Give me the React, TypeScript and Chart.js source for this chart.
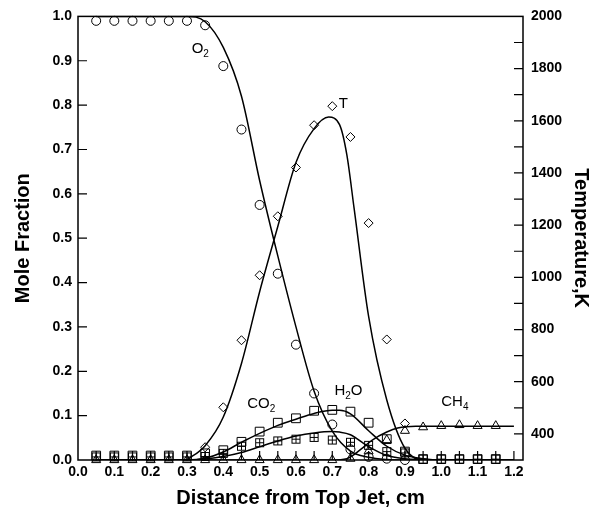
import React, { useEffect, useRef } from "react";
import { Chart, registerables } from "chart.js";

Chart.register(...registerables);

// ---------- data ----------
const distance = [0.05, 0.1, 0.15, 0.2, 0.25, 0.3, 0.35, 0.4, 0.45, 0.5, 0.55, 0.6, 0.65, 0.7, 0.75, 0.8, 0.85, 0.9, 0.95, 1.0, 1.05, 1.1, 1.15];

const o2Measured = [0.99, 0.99, 0.99, 0.99, 0.99, 0.99, 0.98, 0.888, 0.745, 0.575, 0.42, 0.26, 0.15, 0.08, 0.024, 0.007, 0.003, 0.0, null, null, null, null, null];
const tMeasured = [null, null, null, null, null, null, 349, 502, 759, 1008, 1234, 1421, 1583, 1656, 1538, 1208, 762, 440, null, null, null, null, null];
const h2oMeasured = [0.01, 0.01, 0.01, 0.01, 0.01, 0.01, 0.015, 0.022, 0.041, 0.064, 0.084, 0.094, 0.111, 0.113, 0.109, 0.084, 0.047, 0.019, 0.002, 0.002, 0.002, 0.002, 0.002];
const co2Measured = [0.007, 0.007, 0.007, 0.007, 0.007, 0.007, 0.008, 0.015, 0.031, 0.039, 0.043, 0.047, 0.051, 0.045, 0.04, 0.033, 0.019, 0.016, 0.002, 0.002, 0.002, 0.002, 0.002];
const ch4Measured = [0, 0, 0, 0, 0, 0, 0, 0, 0, 0, 0, 0, 0, 0, 0.003, 0.02, 0.045, 0.066, 0.074, 0.077, 0.079, 0.077, 0.077];

// model curves
const o2CurveX = [0.05, 0.3, 0.35, 0.4, 0.45, 0.5, 0.55, 0.6, 0.65, 0.7, 0.75, 0.8, 0.85, 0.9, 1.2];
const o2CurveY = [1.0, 1.0, 0.988, 0.93, 0.82, 0.63, 0.46, 0.3, 0.155, 0.065, 0.02, 0.006, 0.001, 0, 0];

const tCurveX = [0.3, 0.35, 0.4, 0.45, 0.5, 0.55, 0.6, 0.65, 0.69, 0.72, 0.74, 0.76, 0.8, 0.85, 0.9, 0.95, 1.2];
const tCurveY = [300, 355, 465, 670, 945, 1195, 1440, 1570, 1614, 1585, 1470, 1265, 850, 530, 345, 300, 300];

const speciesCurveX = [0.05, 0.3, 0.35, 0.4, 0.45, 0.5, 0.55, 0.6, 0.65, 0.7, 0.72, 0.75, 0.8, 0.85, 0.9, 0.95, 1.0, 1.2];
const h2oCurveY = [0, 0, 0.004, 0.018, 0.04, 0.06, 0.078, 0.092, 0.105, 0.112, 0.112, 0.104, 0.066, 0.031, 0.011, 0.003, 0, 0];
const co2CurveY = [0, 0, 0.002, 0.008, 0.017, 0.03, 0.043, 0.054, 0.061, 0.064, 0.063, 0.057, 0.03, 0.01, 0.003, 0.001, 0, 0];

const ch4CurveX = [0.05, 0.7, 0.74, 0.78, 0.81, 0.85, 0.88, 0.93, 1.0, 1.2];
const ch4CurveY = [0, 0, 0.003, 0.025, 0.045, 0.063, 0.072, 0.076, 0.076, 0.076];

// axis ticks
const xTickValues = [0, 0.1, 0.2, 0.3, 0.4, 0.5, 0.6, 0.7, 0.8, 0.9, 1.0, 1.1, 1.2];
const yTickValues = [0, 0.1, 0.2, 0.3, 0.4, 0.5, 0.6, 0.7, 0.8, 0.9, 1.0];
const tTickValues = [400, 600, 800, 1000, 1200, 1400, 1600, 1800, 2000];

// species labels: [main, subscript, x, mole-fraction y]
const speciesLabels: [string, string, number, number][] = [
  ["O", "2", 0.313, 0.917],
  ["T", "", 0.718, 0.793],
  ["CO", "2", 0.466, 0.117],
  ["H", "2O", 0.706, 0.146],
  ["CH", "4", 1.0, 0.122],
];

const FONT = '"Liberation Sans", Arial, Helvetica, sans-serif';

function pairs(xs: number[], ys: (number | null)[]) {
  const out: { x: number; y: number }[] = [];
  xs.forEach((x, i) => {
    const y = ys[i];
    if (y !== null && y !== undefined) out.push({ x, y });
  });
  return out;
}

export default function App() {
  const ref = useRef<HTMLCanvasElement>(null);

  useEffect(() => {
    document.body.style.margin = "0";
    const canvas = ref.current;
    if (!canvas) return;

    // crossed-square marker
    const cross = document.createElement("canvas");
    cross.width = 11;
    cross.height = 11;
    const cc = cross.getContext("2d")!;
    cc.strokeStyle = "#000";
    cc.lineWidth = 1;
    cc.strokeRect(1.5, 1.5, 8, 8);
    cc.beginPath();
    cc.moveTo(5.5, 1.5);
    cc.lineTo(5.5, 9.5);
    cc.moveTo(1.5, 5.5);
    cc.lineTo(9.5, 5.5);
    cc.stroke();

    const markerBase = {
      showLine: false,
      borderColor: "#000",
      backgroundColor: "rgba(0,0,0,0)",
      pointBorderColor: "#000",
      pointBackgroundColor: "rgba(0,0,0,0)",
      pointBorderWidth: 1,
      clip: false as const,
    };
    const lineBase = {
      showLine: true,
      borderColor: "#000",
      borderWidth: 1.5,
      pointRadius: 0,
      pointHoverRadius: 0,
      cubicInterpolationMode: "monotone" as const,
      fill: false,
    };

    const framePlugin = {
      id: "frame",
      afterDraw(chart: any) {
        const { ctx, chartArea: a, scales } = chart;
        const xs = scales.x, ys = scales.y, ts = scales.y1;
        ctx.save();
        ctx.strokeStyle = "#000";
        ctx.lineWidth = 1.5;
        ctx.strokeRect(a.left, a.top, a.right - a.left, a.bottom - a.top);
        ctx.lineWidth = 1.2;
        ctx.beginPath();
        const tl = 9;
        for (let i = 1; i < 10; i++) {
          const py = ys.getPixelForValue(i / 10);
          ctx.moveTo(a.left, py);
          ctx.lineTo(a.left + tl, py);
        }
        for (let t = 400; t < 2000; t += 100) {
          const py = ts.getPixelForValue(t);
          ctx.moveTo(a.right, py);
          ctx.lineTo(a.right - tl, py);
        }
        for (let i = 1; i <= 24; i++) {
          const px = xs.getPixelForValue(i * 0.05);
          ctx.moveTo(px, a.bottom);
          ctx.lineTo(px, a.bottom - tl);
        }
        ctx.stroke();

        // axis titles
        ctx.fillStyle = "#000";
        ctx.font = `bold 20px ${FONT}`;
        ctx.textAlign = "center";
        ctx.textBaseline = "middle";
        ctx.fillText("Distance from Top Jet, cm", (a.left + a.right) / 2, 498);
        ctx.save();
        ctx.translate(23, (a.top + a.bottom) / 2);
        ctx.rotate(-Math.PI / 2);
        ctx.fillText("Mole Fraction", 0, 0);
        ctx.restore();
        ctx.save();
        ctx.translate(581, (a.top + a.bottom) / 2);
        ctx.rotate(Math.PI / 2);
        ctx.fillText("Temperature,K", 0, 0);
        ctx.restore();

        // species labels
        ctx.textAlign = "left";
        ctx.textBaseline = "alphabetic";
        speciesLabels.forEach(([main, sub, x, y]) => {
          const px = xs.getPixelForValue(x);
          const py = ys.getPixelForValue(y);
          ctx.font = `15px ${FONT}`;
          ctx.fillText(main, px, py);
          const w = ctx.measureText(main).width;
          if (sub) {
            if (sub === "2O") {
              ctx.font = `10px ${FONT}`;
              ctx.fillText("2", px + w, py + 4);
              const w2 = ctx.measureText("2").width;
              ctx.font = `15px ${FONT}`;
              ctx.fillText("O", px + w + w2, py);
            } else {
              ctx.font = `10px ${FONT}`;
              ctx.fillText(sub, px + w, py + 4);
            }
          }
        });
        ctx.restore();
      },
    };

    const tickFont = { family: FONT, size: 14, weight: "bold" as const };

    const chart = new Chart(canvas, {
      type: "scatter",
      data: {
        datasets: [
          { ...lineBase, data: pairs(o2CurveX, o2CurveY), yAxisID: "y" },
          { ...lineBase, data: pairs(tCurveX, tCurveY), yAxisID: "y1" },
          { ...lineBase, data: pairs(speciesCurveX, h2oCurveY), yAxisID: "y" },
          { ...lineBase, data: pairs(speciesCurveX, co2CurveY), yAxisID: "y" },
          { ...lineBase, data: pairs(ch4CurveX, ch4CurveY), yAxisID: "y" },
          { ...markerBase, data: pairs(distance, o2Measured), yAxisID: "y", pointStyle: "circle", pointRadius: 4.5 },
          { ...markerBase, data: pairs(distance, tMeasured), yAxisID: "y1", pointStyle: "rectRot", pointRadius: 4.5 },
          { ...markerBase, data: pairs(distance, h2oMeasured), yAxisID: "y", pointStyle: "rect", pointRadius: 6.2 },
          { ...markerBase, data: pairs(distance, co2Measured), yAxisID: "y", pointStyle: cross as any, pointRadius: 5 },
          { ...markerBase, data: pairs(distance, ch4Measured), yAxisID: "y", pointStyle: "triangle", pointRadius: 5.2 },
        ],
      },
      options: {
        animation: false,
        responsive: false,
        devicePixelRatio: 1,
        layout: { padding: { top: 16, left: 0, right: 0, bottom: 0 } },
        plugins: { legend: { display: false }, tooltip: { enabled: false } },
        events: [],
        scales: {
          x: {
            type: "linear",
            min: 0,
            max: 1.225,
            afterBuildTicks: (s: any) => {
              s.ticks = xTickValues.map((v) => ({ value: v }));
            },
            afterFit: (s: any) => {
              s.height = 56;
            },
            ticks: {
              color: "#000",
              font: tickFont,
              padding: 4,
              maxRotation: 0,
              autoSkip: false,
              callback: (v: any) => Number(v).toFixed(1),
            },
            grid: { display: false, drawTicks: false },
            border: { display: false },
          },
          y: {
            type: "linear",
            position: "left",
            min: 0,
            max: 1,
            afterBuildTicks: (s: any) => {
              s.ticks = yTickValues.map((v) => ({ value: v }));
            },
            afterFit: (s: any) => {
              s.width = 78;
            },
            ticks: {
              color: "#000",
              font: tickFont,
              padding: 6,
              autoSkip: false,
              callback: (v: any) => Number(v).toFixed(1),
            },
            grid: { display: false, drawTicks: false },
            border: { display: false },
          },
          y1: {
            type: "linear",
            position: "right",
            min: 300,
            max: 2000,
            afterBuildTicks: (s: any) => {
              s.ticks = tTickValues.map((v) => ({ value: v }));
            },
            afterFit: (s: any) => {
              s.width = 72;
            },
            ticks: {
              color: "#000",
              font: tickFont,
              padding: 8,
              autoSkip: false,
              callback: (v: any) => String(v),
            },
            grid: { display: false, drawTicks: false },
            border: { display: false },
          },
        },
      },
      plugins: [framePlugin],
    });

    return () => chart.destroy();
  }, []);

  return <canvas ref={ref} width={595} height={516} style={{ display: "block" }} />;
}
